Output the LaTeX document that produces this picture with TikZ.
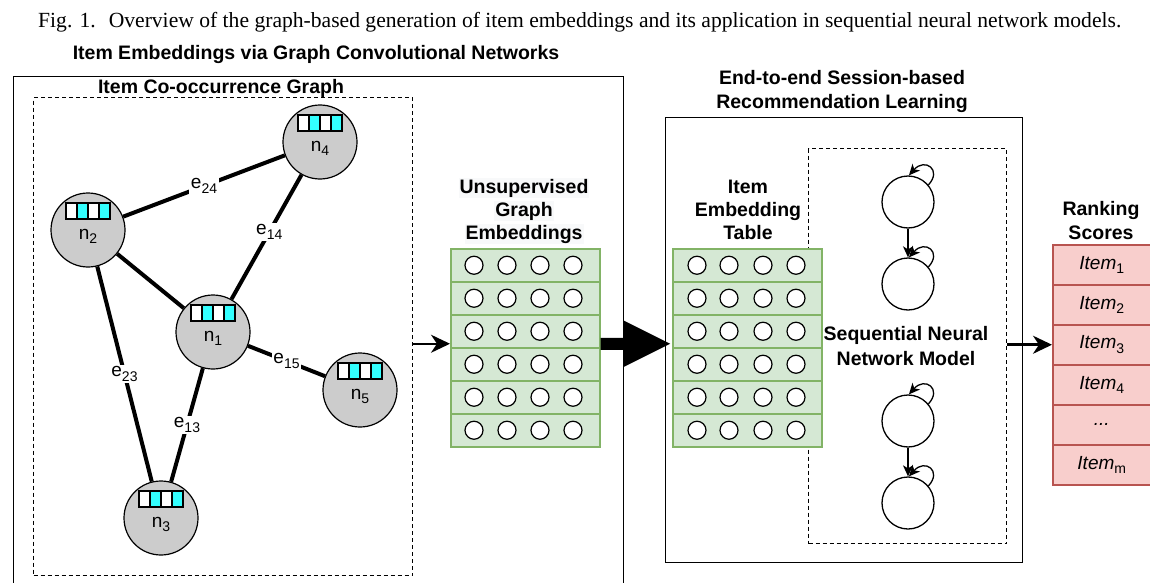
\documentclass[tikz,border=0pt]{standalone}
\usepackage{fontspec}
\setmainfont{Liberation Serif}
\setsansfont{Liberation Sans}
\usetikzlibrary{arrows.meta,calc,backgrounds}
\definecolor{gfill}{HTML}{CCCCCC}
\definecolor{cellc}{HTML}{33FFFF}
\definecolor{grfill}{HTML}{D5E8D4}
\definecolor{grdraw}{HTML}{82B366}
\definecolor{rdfill}{HTML}{F8CECC}
\definecolor{rddraw}{HTML}{B85450}
\definecolor{lblbg}{HTML}{F8F9FA}
\newcommand{\bsz}{\fontsize{19.5}{23}\selectfont}
\newcommand{\lsz}{\fontsize{19}{22}\selectfont}
\newcommand{\subs}[1]{\raisebox{-0.45ex}{\upshape\fontsize{14}{15}\selectfont #1}}
\tikzset{
  gnode/.style={circle, draw, line width=1.2pt, fill=gfill, minimum size=74pt, inner sep=0pt},
  glab/.style={font=\sffamily\lsz, inner sep=1pt, anchor=base},
  elab/.style={font=\sffamily\lsz, fill=white, inner sep=1.5pt},
  gedge/.style={line width=4pt},
  bigbox/.style={draw, line width=1.3pt, inner sep=0pt},
  dbox/.style={draw, line width=1.3pt, dash pattern=on 4pt off 3pt, inner sep=0pt},
  btitle/.style={font=\sffamily\bfseries\bsz, anchor=base, inner sep=1pt},
  tabbox/.style={draw=grdraw, fill=grfill, line width=1.5pt, minimum width=149pt, minimum height=198pt, inner sep=0pt, anchor=north west},
  tabrow/.style={draw=grdraw, line width=1.5pt, minimum width=149pt, minimum height=33pt, inner sep=0pt, anchor=north west},
  etcirc/.style={circle, draw, fill=white, line width=1.2pt, minimum size=18pt, inner sep=0pt},
  scirc/.style={circle, draw, line width=1.3pt, minimum size=52pt, inner sep=0pt},
  rkbox/.style={draw=rddraw, fill=rdfill, line width=1.5pt, minimum width=98pt, minimum height=240pt, inner sep=0pt, anchor=north west},
  rkcell/.style={draw=rddraw, line width=1.5pt, minimum width=98pt, minimum height=40pt, inner sep=0pt, anchor=north west, font=\sffamily\itshape\lsz},
  thinar/.style={line width=2pt, -{Stealth[length=19pt,width=18pt,inset=6pt]}},
  seqar/.style={line width=1.3pt, -{Stealth[length=11pt,width=10pt,inset=3pt]}},
}
\newcommand{\cellvec}[1]{%
  \foreach \i/\cc in {0/white,1/cellc,2/white,3/cellc}
    \draw[line width=1.2pt, fill=\cc] ($(#1)+(-22+11*\i,-27)$) rectangle ++(11,16);}
\begin{document}
\begin{tikzpicture}[x=1pt,y=-1pt]
\useasboundingbox (0,0) rectangle (1150,583);
\clip (0,0) rectangle (1150,583);

% caption
\node[anchor=base west, inner sep=0pt, font=\fontsize{21.6}{24}\selectfont] (caption) at (38,28)
  {Fig. 1.\hspace{0.6em}Overview of the graph-based generation of item embeddings and its application in sequential neural network models.};

% left part
\node[btitle] (gcntitle) at (316,60) {Item Embeddings via Graph Convolutional Networks};
\node[bigbox, minimum width=610pt, minimum height=560pt, anchor=north west] (gcnbox) at (13,76) {};
\node[btitle] (cotitle) at (221,94) {Item Co-occurrence Graph};
\node[dbox, minimum width=379pt, minimum height=478pt, anchor=north west] (graphbox) at (33,97) {};

% graph nodes
\node[gnode] (n1) at (213,332) {};
\node[gnode] (n2) at (88,230) {};
\node[gnode] (n3) at (161,518) {};
\node[gnode] (n4) at (320,142) {};
\node[gnode] (n5) at (360,390) {};
\foreach \n in {1,...,5}{
  \cellvec{n\n}
  \node[glab] (n\n lab) at ($(n\n)+(0,9)$) {n\subs{\n}};
}
\begin{pgfonlayer}{background}
\draw[gedge] (n2) -- (n4) node[elab, pos=0.5] (e24) {e\subs{24}};
\draw[gedge] (n1) -- (n4) node[elab, pos=0.54] (e14) {e\subs{14}};
\draw[gedge] (n2) -- (n1);
\draw[gedge] (n2) -- (n3) node[elab, pos=0.5] (e23) {e\subs{23}};
\draw[gedge] (n1) -- (n3) node[elab, pos=0.5] (e13) {e\subs{13}};
\draw[gedge] (n1) -- (n5) node[elab, pos=0.5] (e15) {e\subs{15}};
\end{pgfonlayer}

% unsupervised embeddings
\node[btitle, fill=lblbg] (ut1) at (524,193) {Unsupervised};
\node[btitle, fill=lblbg] (ut2) at (524,216) {Graph};
\node[btitle, fill=lblbg] (ut3) at (524,239) {Embeddings};
\node[tabbox] (tabA) at (450,248) {};
\foreach \r in {1,...,6}{
  \node[tabrow] (ua\r) at (450,{248+33*(\r-1)}) {};
  \foreach \c/\dx in {1/24,2/57,3/90,4/123}
    \node[etcirc] (ua\r c\c) at ($(ua\r.west)+(\dx,0)$) {};
}
\draw[thinar] ($(graphbox.east |- tabA.west)+(0,-4)$) -- ($(tabA.west)+(0,-4)$);

% right part
\node[btitle] (rt1) at (842,84.5) {End-to-end Session-based};
\node[btitle] (rt2) at (842,108.5) {Recommendation Learning};
\node[bigbox, minimum width=357pt, minimum height=445pt, anchor=north west] (recbox) at (665,117) {};
\node[dbox, minimum width=198pt, minimum height=395pt, anchor=north west] (seqbox) at (808,148) {};
\node[btitle, fill=white] (it1) at (748,193) {Item};
\node[btitle, fill=white] (it2) at (748,216) {Embedding};
\node[btitle, fill=white] (it3) at (748,239) {Table};
\node[tabbox] (tabB) at (672,248) {};
\foreach \r in {1,...,6}{
  \node[tabrow] (ub\r) at (672,{248+33*(\r-1)}) {};
  \foreach \c/\dx in {1/25,2/57,3/91,4/124}
    \node[etcirc] (ub\r c\c) at ($(ub\r.west)+(\dx,0)$) {};
}
% big arrow
\coordinate (ba1) at ($(tabA.east)+(0,-4)$);
\coordinate (ba2) at ($(tabB.west)+(-2,-4)$);
\fill ($(ba1)+(0,-6)$) -- ($(ba2)+(-47,-6)$) -- ($(ba2)+(-47,-23.5)$) -- (ba2)
  -- ($(ba2)+(-47,23.5)$) -- ($(ba2)+(-47,6)$) -- ($(ba1)+(0,6)$) -- cycle;

% sequential model
\node[scirc] (s1) at (908,202) {};
\node[scirc] (s2) at (908,284) {};
\node[scirc] (s3) at (908,421) {};
\node[scirc] (s4) at (908,503) {};
\draw[seqar] (s1.south) -- (s2.north);
\draw[seqar] (s3.south) -- (s4.north);
\foreach \s in {1,...,4}
  \draw[seqar] (s\s.40) .. controls +(14,-15) and +(16,-18) .. (s\s.88);
\node[btitle] (sq1) at (906,340) {Sequential Neural};
\node[btitle] (sq2) at (906,365) {Network Model};

% ranking scores
\node[btitle] (rk1) at (1101,215.5) {Ranking};
\node[btitle] (rk2) at (1101,239) {Scores};
\node[rkbox] (rank) at (1052,244) {};
\node[rkcell] (rc1) at (1052,244) {Item\subs{1}};
\node[rkcell] (rc2) at (1052,284) {Item\subs{2}};
\node[rkcell] (rc3) at (1052,324) {Item\subs{3}};
\node[rkcell] (rc4) at (1052,364) {Item\subs{4}};
\node[rkcell] (rc5) at (1052,404) {...};
\node[rkcell] (rc6) at (1052,444) {Item\subs{m}};
\draw[thinar, line width=2.6pt] (seqbox.east |- rc3.west) -- (rc3.west);
\end{tikzpicture}
\end{document}
